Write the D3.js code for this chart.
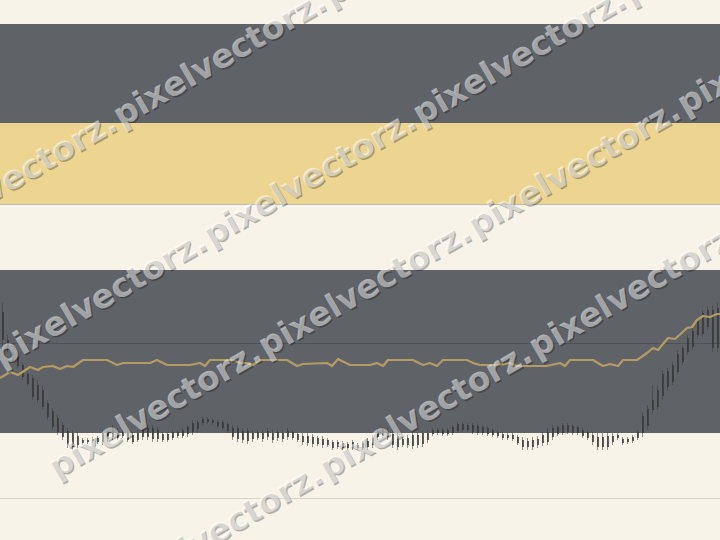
<!DOCTYPE html>
<html><head><meta charset="utf-8">
<script src="https://cdn.jsdelivr.net/npm/d3@7"></script>
<style>html,body{margin:0;padding:0;background:#f7f3e8;}svg{display:block}</style>
</head><body><svg id="c" width="720" height="540"></svg>
<script>
// ---- data (value units) ----
const highs=[195,163,148,143,136,126,123,118,113,98,
90,83,76,70,68,66,60,60,61,62,
68,70,73,70,68,68,66,68,71,73,
73,71,66,66,68,68,70,73,78,78,
81,81,80,78,78,76,73,73,70,70,
68,68,68,70,68,68,68,70,68,66,
65,65,64,62,62,60,58,58,57,56,
58,55,57,60,63,70,71,70,68,66,
61,63,66,66,68,68,70,70,70,70,
73,76,76,75,75,74,73,72,70,68,
66,65,65,63,61,60,61,62,66,70,
73,73,75,75,74,73,70,68,66,65,
65,66,65,65,61,61,63,68,86,93,
113,113,128,130,136,148,153,163,170,180,
188,191,193,195];
const lows=[151,146,135,130,118,112,98,95,88,78,
68,63,58,50,48,50,53,54,55,54,
53,56,58,58,60,56,54,56,58,58,
56,56,56,56,58,60,60,61,63,66,
73,74,73,70,68,65,58,56,55,54,
56,58,56,58,55,57,56,58,58,56,
53,52,51,52,50,51,48,49,48,48,
48,48,48,48,50,58,60,58,50,48,
51,50,49,50,51,55,62,63,62,62,
63,65,66,66,64,63,63,62,61,60,
58,58,57,53,48,48,48,50,52,53,
58,62,63,64,63,63,60,58,53,48,
48,48,53,58,53,54,55,58,61,68,
83,88,98,108,113,123,133,143,148,160,
161,168,146,146];
const opens=[186,158,146,141,133,124,120,113,108,95,
87,80,73,67,65,62,58,58,59,60,
56,59,61,67,66,65,63,65,68,70,
70,68,64,64,66,66,68,64,66,69,
75,76,78,76,76,74,70,70,67,67,
65,66,65,67,65,66,65,67,66,64,
62,62,61,60,59,58,56,56,55,54,
56,53,55,57,60,61,62,61,64,62,
59,60,63,63,65,65,64,65,64,64,
65,67,68,73,73,72,71,70,68,66,
64,63,63,61,58,57,58,59,63,66,
61,64,65,66,72,71,68,66,63,61,
61,62,62,63,59,59,61,60,65,72,
88,91,102,111,116,126,136,146,151,163,
164,171,188,190];
const closes=[158,148,137,132,121,114,101,98,91,81,
71,66,61,53,51,53,55,56,57,56,
65,67,70,60,62,58,56,58,61,61,
59,59,58,58,60,62,62,71,75,76,
79,79,75,72,70,67,61,59,58,57,
59,60,59,61,58,60,59,61,60,58,
56,55,54,54,53,53,50,51,50,50,
50,50,50,51,53,67,69,67,53,51,
53,53,52,53,54,58,68,68,68,68,
71,74,74,68,66,65,65,64,63,62,
60,60,59,55,51,51,51,53,55,56,
70,71,73,73,65,65,62,60,56,51,
51,51,56,60,55,56,57,66,82,89,
98,108,124,127,133,144,150,160,167,177,
185,188,150,150];
// moving-average line: [candle index, value]
const maIdx=[-0.4,1.6,3.2,5.6,7.2,8.2,10.2,11.6,13,14.2,16.2,21,23,24.2,29.6,31,33,37.6,39.6,40.6,41.6,46.2,47.6,49,50.2,51.6,57,59,60.2,65,66,67.2,69.6,73.6,75,76.2,77.2,82.2,84.2,85.6,87,88.2,93,94.2,95.6,99.6,101.6,103,109,111.6,112.6,113.6,118.2,120.2,121.6,123.2,124.2,127,129,130.2,131.2,133.2,134.6,137,138,139,140.2,141.6,143,143.6];
const maVal=[120,126,123,131,128,131,132,129,132,131,138,138,133,135,135,138,133,133,135,132,138,138,135,135,133,138,138,132,134,135,132,139,133,133,135,132,138,138,133,135,132,138,138,135,133,133,135,132,132,135,132,138,138,132,134,132,138,138,145,150,148,160,159,170,171,178,182,181,184,184];
// background zones (value ranges) and rule levels
const bandFrom=[65,294,375];
const bandTo=[228,375,474];
const ruleLevels=[0,155,294];
// watermark rows
const wmText="pixelvectorz.";
const wmRowY0=[186,357,500,657];
const wmFirstX=[-83,7,62,123];
const wmCount=[3,4,4,3];

// ---- drawing ----
const W=720,H=540;
const svg=d3.select("#c");
const x=d3.scaleLinear().domain([0,143]).range([2,717]);
const y=d3.scaleLinear().domain([0,474]).range([498,24]);

svg.append("rect").attr("width",W).attr("height",H).attr("fill","#f7f3e8");
const bandColors=["#5f6368","#ecd591","#5f6368"];
svg.selectAll("rect.band").data(bandFrom.map((f,i)=>({f,t:bandTo[i],c:bandColors[i]})))
  .join("rect").attr("class","band").attr("x",0).attr("width",W)
  .attr("y",d=>y(d.t)).attr("height",d=>y(d.f)-y(d.t)).attr("fill",d=>d.c);
const ruleColors=["#d7d4cb","#4d5359","#bdbaae"];
svg.selectAll("line.rule").data(ruleLevels).join("line").attr("class","rule")
  .attr("x1",0).attr("x2",W).attr("y1",d=>Math.round(y(d))+0.5).attr("y2",d=>Math.round(y(d))+0.5)
  .attr("stroke",(d,i)=>ruleColors[i]).attr("stroke-width",1);

const candles=highs.map((h,i)=>({i,h,l:lows[i],o:opens[i],c:closes[i]}));
const cg=svg.append("g");
cg.selectAll("line.wick").data(candles).join("line").attr("class","wick")
  .attr("x1",d=>Math.round(x(d.i))+0.5).attr("x2",d=>Math.round(x(d.i))+0.5)
  .attr("y1",d=>y(d.h)).attr("y2",d=>y(d.l))
  .attr("stroke","#3c3c3c").attr("stroke-opacity",0.55).attr("stroke-width",1);
cg.selectAll("rect.body").data(candles).join("rect").attr("class","body")
  .attr("x",d=>Math.round(x(d.i))).attr("width",2)
  .attr("y",d=>y(Math.max(d.o,d.c))).attr("height",d=>Math.max(1,Math.abs(y(d.o)-y(d.c))))
  .attr("fill","#383838").attr("fill-opacity",0.8);

const ma=maIdx.map((v,i)=>[v,maVal[i]]);
svg.append("path").datum(ma).attr("d",d3.line().x(d=>x(d[0])).y(d=>y(d[1])))
  .attr("fill","none").attr("stroke","#b39c63").attr("stroke-width",2.2)
  .attr("stroke-linejoin","round");

// watermark
const t30=Math.tan(Math.PI/6), period=242;
const wm=[];
wmRowY0.forEach((y0,r)=>{for(let k=0;k<wmCount[r];k++){const px=wmFirstX[r]+k*period*Math.cos(Math.PI/6);wm.push({px,py:y0-px*t30});}});
const wg=svg.append("g").attr("font-family","DejaVu Sans").attr("font-weight","bold").attr("font-size",33);
wg.selectAll("text.sh").data(wm).join("text").attr("class","sh")
  .attr("transform",d=>`translate(${d.px+1.5},${d.py+1.5}) rotate(-30)`)
  .attr("x",-12).attr("y",10).attr("fill","#000").attr("fill-opacity",0.28).text(wmText);
wg.selectAll("text.fg").data(wm).join("text").attr("class","fg")
  .attr("transform",d=>`translate(${d.px},${d.py}) rotate(-30)`)
  .attr("x",-12).attr("y",10).attr("fill","#fff").attr("fill-opacity",0.5).text(wmText);
</script></body></html>
